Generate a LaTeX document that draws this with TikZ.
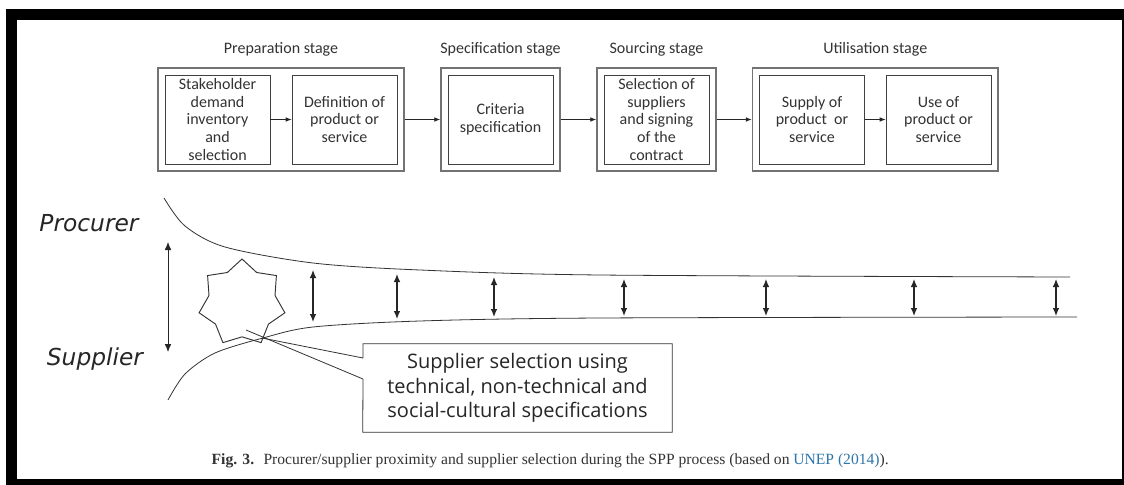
\documentclass[tikz,border=0pt]{standalone}
\usepackage{fontspec}
\setmainfont{Liberation Serif}
\newfontfamily\boxfont{Carlito}
\newfontfamily\notefont{Open Sans}
\newfontfamily\sidefont{DejaVu Sans}
\usetikzlibrary{arrows.meta,positioning,fit,shapes.geometric}
\definecolor{linkblue}{RGB}{44,118,172}

\begin{document}
\begin{tikzpicture}[x=0.75pt, y=-0.75pt, >=Latex,
    item/.style={draw=black!75, line width=0.6pt, align=center, minimum width=78.75pt, minimum height=66.75pt, inner sep=0.5pt, font=\boxfont\fontsize{12pt}{13.2pt}\selectfont, text=black!80},
    stagebox/.style={draw=black!55, line width=1pt, inner sep=5pt},
    stagename/.style={font=\boxfont\fontsize{12pt}{14pt}\selectfont, text=black!80},
    flow/.style={-{Latex[length=4.5pt,width=3.5pt]}, line width=0.6pt, draw=black!85},
    gap/.style={{Latex[length=6pt,width=5pt]}-{Latex[length=6pt,width=5pt]}, line width=0.9pt, draw=black!85},
    curve/.style={line width=0.6pt, draw=black!80},
    side/.style={font=\sidefont\itshape\fontsize{17.5pt}{20pt}\selectfont, text=black!85}]
    % frame
    \fill[white] (0,0) rectangle (1124,485);
    \fill[black] (6,9) rectangle (1124,485);
    \fill[white] (17,20) rectangle (1122,479);
    \useasboundingbox (0,0) rectangle (1124,485);

    % process steps
    \node[item] (stake) at (217.5,119.5) {Stakeholder\\demand\\inventory\\and\\selection};
    \node[item] (defn) at (344.5,119.5) {Definition of\\product or\\service};
    \node[item] (crit) at (500.5,119.5) {Criteria\\specification};
    \node[item] (select) at (656.5,119.5) {Selection of\\suppliers\\and signing\\of the\\contract};
    \node[item] (supply) at (812,119.5) {Supply of\\product~~or\\service};
    \node[item] (use) at (938.5,119.5) {Use of\\product or\\service};

    % stages
    \node[stagebox, fit=(stake)(defn)] (prep) {};
    \node[stagebox, fit=(crit)] (spec) {};
    \node[stagebox, fit=(select)] (source) {};
    \node[stagebox, fit=(supply)(use)] (util) {};
    \node[stagename] (preplbl) at (prep.north |- 0,49) {Preparation stage};
    \node[stagename] (speclbl) at (spec.north |- 0,49) {Specification stage};
    \node[stagename] (sourcelbl) at (source.north |- 0,49) {Sourcing stage};
    \node[stagename] (utillbl) at (util.north |- 0,49) {Utilisation stage};

    \draw[flow] (stake) -- (defn);
    \draw[flow] (prep) -- (spec);
    \draw[flow] (spec) -- (source);
    \draw[flow] (source) -- (util);
    \draw[flow] (supply) -- (use);

    % proximity
    \node[side] (procurer) at (89,223) {Procurer};
    \node[side] (supplier) at (95,359) {Supplier};
    \draw[curve] plot[smooth, tension=0.5] coordinates {(164,198) (185,226) (225,247) (313,263) (420,270) (600,275) (1070,277)};
    \draw[curve] plot[smooth, tension=0.5] coordinates {(168,400) (185,374) (215,353) (263,338) (313,327) (420,321) (600,318) (1077,317)};

    \coordinate (spanup) at (168,242);
    \coordinate (spanlo) at (168,352);
    \draw[gap, line width=0.6pt] (spanup) -- (spanlo);

    \coordinate (up1) at (313,270); \coordinate (lo1) at (313,322);
    \coordinate (up2) at (397,274); \coordinate (lo2) at (397,319);
    \coordinate (up3) at (494,277); \coordinate (lo3) at (494,317);
    \coordinate (up4) at (624,279); \coordinate (lo4) at (624,316);
    \coordinate (up5) at (766,279); \coordinate (lo5) at (766,316);
    \coordinate (up6) at (914,279); \coordinate (lo6) at (914,316);
    \coordinate (up7) at (1056,279); \coordinate (lo7) at (1056,316);
    \draw[gap] (up1) -- (lo1);
    \draw[gap] (up2) -- (lo2);
    \draw[gap] (up3) -- (lo3);
    \draw[gap] (up4) -- (lo4);
    \draw[gap] (up5) -- (lo5);
    \draw[gap] (up6) -- (lo6);
    \draw[gap] (up7) -- (lo7);

    \node[draw=black!80, line width=0.7pt, star, star points=7, star point ratio=1.3, minimum size=66pt, inner sep=0pt] (spark) at (242,303) {};

    % callout
    \node[minimum width=231.75pt, minimum height=66pt, align=center, font=\notefont\fontsize{15pt}{18.4pt}\selectfont, text=black!85] (note) at (517.5,388) {Supplier selection using\\technical, non-technical and\\social-cultural specifications};
    \coordinate (gapup) at (363,358);
    \coordinate (gaplo) at (363,379);
    \coordinate (tipa) at (262,338);
    \coordinate (tipb) at (246,330);
    \draw[curve] (gapup) |- (note.north east) |- (note.south west) -- (gaplo);
    \draw[curve] (gapup) -- (tipa);
    \draw[curve] (gaplo) -- (tipb);

    \node[anchor=west, font=\fontsize{11.7pt}{13pt}\selectfont, text=black!80] (caption) at (207,461) {\textbf{Fig. 3.}\hspace{0.6em}Procurer/supplier proximity and supplier selection during the SPP process (based on \textcolor{linkblue}{UNEP (2014)}).};
\end{tikzpicture}
\end{document}
